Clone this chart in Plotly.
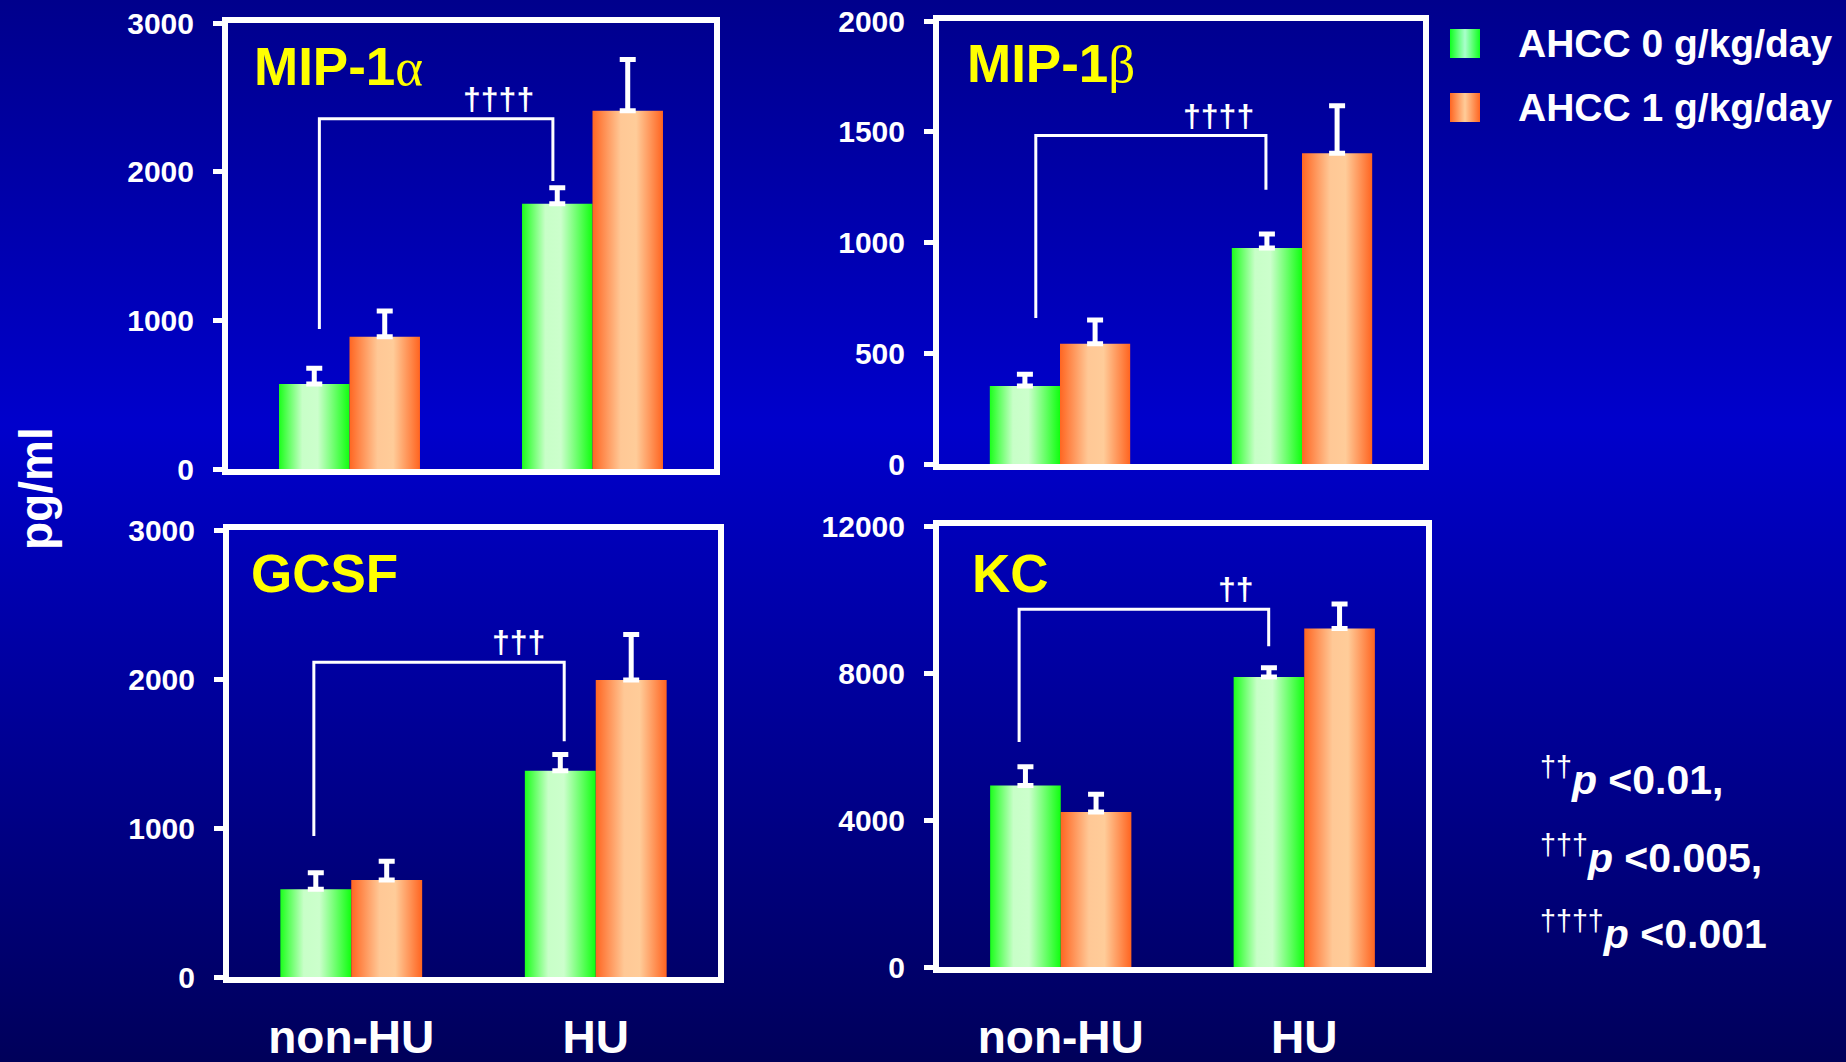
import base64
import plotly.graph_objects as go

W, H = 1846, 1062

# ---------------- data ----------------
groups = ["non-HU", "HU"]
series_names = ["AHCC 0 g/kg/day", "AHCC 1 g/kg/day"]
panel_titles = ["MIP-1", "MIP-1", "GCSF", "KC"]
panel_greek = ["α", "β", "", ""]

mip1a_ahcc0 = [571, 1785]
mip1a_ahcc0_sem = [106, 106]
mip1a_ahcc1 = [889, 2409]
mip1a_ahcc1_sem = [173, 345]

mip1b_ahcc0 = [352, 975]
mip1b_ahcc0_sem = [53, 63]
mip1b_ahcc1 = [543, 1403]
mip1b_ahcc1_sem = [107, 214]

gcsf_ahcc0 = [589, 1384]
gcsf_ahcc0_sem = [110, 109]
gcsf_ahcc1 = [651, 1993]
gcsf_ahcc1_sem = [126, 305]

kc_ahcc0 = [4940, 7893]
kc_ahcc0_sem = [510, 249]
kc_ahcc1 = [4215, 9208]
kc_ahcc1_sem = [485, 671]

yticks_mip1a = [0, 1000, 2000, 3000]
yticks_mip1b = [0, 500, 1000, 1500, 2000]
yticks_gcsf = [0, 1000, 2000, 3000]
yticks_kc = [0, 4000, 8000, 12000]

# significance brackets (non-HU vs HU, AHCC 0): label, left end, top, right end (pg/ml)
sig_labels = ["††††", "††††", "†††", "††"]
sig_left_end = [942, 659, 947, 6121]
sig_top = [2356, 1483, 2113, 9732]
sig_right_end = [1938, 1238, 1583, 8725]

pvalue_notes = ["<sup>††</sup><b><i>p</i> &lt;0.01,</b>",
                "<sup>†††</sup><b><i>p</i> &lt;0.005,</b>",
                "<sup>††††</sup><b><i>p</i> &lt;0.001</b>"]

# ---------------- layout / style ----------------
FONT = "Liberation Sans, Arial, sans-serif"
SERIF = "Liberation Serif, Times New Roman, serif"
GREEN_SCALE = [[0, "#1cff1c"], [0.33, "#c8ffc8"], [0.55, "#ccffcc"], [1, "#10ff10"]]
ORANGE_SCALE = [[0, "#ff6622"], [0.4, "#ffc896"], [0.62, "#ffcc99"], [1, "#ff6420"]]
scales = [GREEN_SCALE, ORANGE_SCALE]
BW = 0.29
LW = 6

panels = [
    dict(means=[mip1a_ahcc0, mip1a_ahcc1], sems=[mip1a_ahcc0_sem, mip1a_ahcc1_sem], ticks=yticks_mip1a,
         px=(225, 717), py=(20, 472), bl=-0.124, br=0.837, lx=0.614, tx=0.049, ty=0.903, stand=15),
    dict(means=[mip1b_ahcc0, mip1b_ahcc1], sems=[mip1b_ahcc0_sem, mip1b_ahcc1_sem], ticks=yticks_mip1b,
         px=(936, 1426), py=(18, 467), bl=-0.1, br=0.851, lx=0.657, tx=0.053, ty=0.903, stand=15),
    dict(means=[gcsf_ahcc0, gcsf_ahcc1], sems=[gcsf_ahcc0_sem, gcsf_ahcc1_sem], ticks=yticks_gcsf,
         px=(226, 721), py=(527, 980), bl=-0.153, br=0.871, lx=0.685, tx=0.040, ty=0.903, stand=15),
    dict(means=[kc_ahcc0, kc_ahcc1], sems=[kc_ahcc0_sem, kc_ahcc1_sem], ticks=yticks_kc,
         px=(936, 1429), py=(523, 970), bl=-0.171, br=0.854, lx=0.72, tx=0.063, ty=0.893, stand=25),
]

fig = go.Figure()
annotations = []
shapes = []

for i, p in enumerate(panels):
    n = i + 1
    xa = "x" if n == 1 else f"x{n}"
    ya = "y" if n == 1 else f"y{n}"
    for s in range(2):
        for g, grp in enumerate(groups):
            v = p["means"][s][g]
            x0 = g - BW if s == 0 else g
            x1 = x0 + BW
            fig.add_trace(go.Scatter(
                x=[x0, x0, x1, x1, x0], y=[0, v, v, 0, 0],
                fill="toself", mode="lines", line=dict(width=0, color="rgba(0,0,0,0)"),
                fillgradient=dict(type="horizontal", colorscale=scales[s]),
                name=series_names[s], showlegend=False, xaxis=xa, yaxis=ya,
                hoverinfo="skip"))
        fig.add_trace(go.Scatter(
            x=[g + (-BW / 2 if s == 0 else BW / 2) for g in range(len(groups))],
            y=p["means"][s], mode="markers",
            marker=dict(size=1, color="rgba(0,0,0,0)"),
            error_y=dict(type="data", symmetric=False, array=p["sems"][s],
                         arrayminus=[0] * len(groups), color="white", thickness=5, width=8),
            name=series_names[s], showlegend=False, xaxis=xa, yaxis=ya))

    # axis lines are drawn just outside the domain, so inset by half the line width
    xdom = [(p["px"][0] + LW / 2) / W, (p["px"][1] - LW / 2) / W]
    ydom = [1 - (p["py"][1] - LW / 2) / H, 1 - (p["py"][0] + LW / 2) / H]
    bottom = n in (3, 4)
    fig.update_layout(**{
        ("xaxis" if n == 1 else f"xaxis{n}"): dict(
            domain=xdom, anchor=ya, range=[-0.5, 1.5], showgrid=False, zeroline=False,
            showline=True, mirror=True, linecolor="white", linewidth=LW, ticks="",
            tickvals=[0, 1] if bottom else [], ticktext=groups if bottom else [],
            showticklabels=bottom, automargin=False,
            tickfont=dict(family=FONT, size=46, color="white", weight="bold"),
            ticklabelstandoff=p["stand"]),
        ("yaxis" if n == 1 else f"yaxis{n}"): dict(
            domain=ydom, anchor=xa, range=[0, p["ticks"][-1]], showgrid=False, zeroline=False,
            showline=True, mirror=True, linecolor="white", linewidth=LW, automargin=False,
            ticks="outside", ticklen=9, tickwidth=5, tickcolor="white",
            tickvals=p["ticks"], ticktext=[str(t) for t in p["ticks"]],
            tickfont=dict(family=FONT, size=30, color="white", weight="bold"),
            ticklabelstandoff=13),
    })

    # title
    title = f"<b>{panel_titles[i]}</b>"
    if panel_greek[i]:
        title += f"<span style='font-family:{SERIF}'>{panel_greek[i]}</span>"
    annotations.append(dict(text=title, xref=f"{xa} domain", yref=f"{ya} domain",
                            x=p["tx"], y=p["ty"], xanchor="left", yanchor="middle",
                            showarrow=False, font=dict(family=FONT, size=53, color="#ffff00")))
    # significance bracket
    shapes.append(dict(type="path", xref=xa, yref=ya,
                       path=f"M {p['bl']},{sig_left_end[i]} L {p['bl']},{sig_top[i]} "
                            f"L {p['br']},{sig_top[i]} L {p['br']},{sig_right_end[i]}",
                       line=dict(color="white", width=3)))
    annotations.append(dict(text=f"<b>{sig_labels[i]}</b>", xref=xa, yref=ya, x=p["lx"], y=sig_top[i],
                            xanchor="center", yanchor="bottom", showarrow=False,
                            font=dict(family=FONT, size=32, color="white")))

# y-axis common label
annotations.append(dict(text="<b>pg/ml</b>", xref="paper", yref="paper", x=36 / W, y=1 - 489 / H,
                        textangle=-90, showarrow=False, xanchor="center", yanchor="middle",
                        font=dict(family=FONT, size=46, color="white")))

# legend (manual)
legend_y = [43.5, 107.5]
for s in range(2):
    annotations.append(dict(text=f"<b>{series_names[s]}</b>", xref="paper", yref="paper",
                            x=1516 / W, y=1 - legend_y[s] / H, xanchor="left", yanchor="middle",
                            showarrow=False, font=dict(family=FONT, size=39, color="white")))

# p-value notes
note_y = [777, 855, 931]
for t, yy in zip(pvalue_notes, note_y):
    annotations.append(dict(text=t, xref="paper", yref="paper", x=1538 / W, y=1 - yy / H,
                            xanchor="left", yanchor="middle", showarrow=False,
                            font=dict(family=FONT, size=41, color="white")))


def svg_uri(svg):
    return "data:image/svg+xml;base64," + base64.b64encode(svg.encode("utf-8")).decode("ascii")


bg_svg = ('<svg xmlns="http://www.w3.org/2000/svg" width="100" height="100" preserveAspectRatio="none" '
          'viewBox="0 0 100 100"><defs><linearGradient id="g" x1="0" y1="0" x2="0" y2="1">'
          '<stop offset="0" stop-color="#00008c"/><stop offset="0.4" stop-color="#0000cc"/>'
          '<stop offset="1" stop-color="#00005a"/></linearGradient></defs>'
          '<rect x="0" y="0" width="100" height="100" fill="url(#g)"/></svg>')


def swatch_svg(scale):
    stops = "".join(f'<stop offset="{o}" stop-color="{c}"/>' for o, c in scale)
    return ('<svg xmlns="http://www.w3.org/2000/svg" width="30" height="30" preserveAspectRatio="none" '
            'viewBox="0 0 30 30"><defs><linearGradient id="s" x1="0" y1="0" x2="1" y2="0">'
            f'{stops}</linearGradient></defs><rect x="0" y="0" width="30" height="30" fill="url(#s)"/></svg>')


SWATCH_SCALES = [[[0, "#10ff20"], [0.5, "#aaffcc"], [1, "#10ff20"]],
                 [[0, "#ff6622"], [0.5, "#ffcc99"], [1, "#ff6622"]]]
images = [dict(source=svg_uri(bg_svg), xref="paper", yref="paper", x=0, y=1, sizex=1, sizey=1,
               xanchor="left", yanchor="top", sizing="stretch", layer="below")]
swatch_top = [29, 93]
for s in range(2):
    images.append(dict(source=svg_uri(swatch_svg(SWATCH_SCALES[s])), xref="paper", yref="paper",
                       x=1450 / W, y=1 - swatch_top[s] / H, sizex=30 / W, sizey=29 / H,
                       xanchor="left", yanchor="top", sizing="stretch", layer="above"))

fig.update_layout(
    width=W, height=H, margin=dict(l=0, r=0, t=0, b=0, autoexpand=False),
    paper_bgcolor="#0000a0", plot_bgcolor="rgba(0,0,0,0)",
    showlegend=False, annotations=annotations, shapes=shapes, images=images,
    font=dict(family=FONT, color="white"),
)

fig.write_html("out.html", config={"displayModeBar": False},
               post_script="document.body.style.margin='0';")
